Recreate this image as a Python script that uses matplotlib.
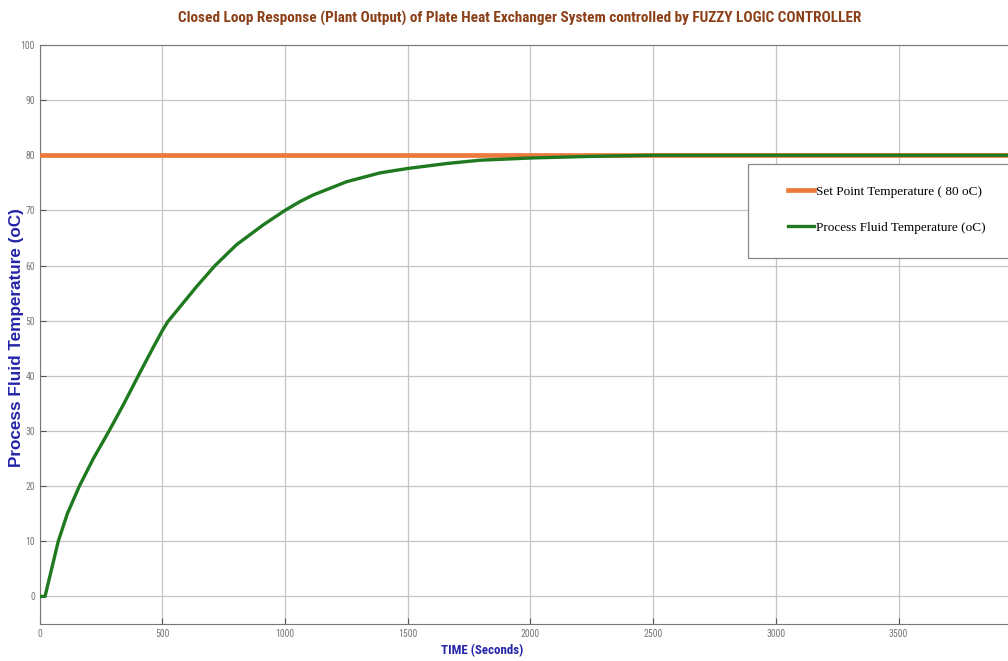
import numpy as np
import matplotlib
matplotlib.use("Agg")
import matplotlib.pyplot as plt
from matplotlib.patches import Rectangle

# readings
time_s = [0, 22, 76, 113, 162, 219, 283, 344, 402, 461, 500, 522, 640, 715,
          803, 912, 1000, 1061, 1115, 1251, 1387, 1500, 1659, 1795, 2000,
          2250, 2500, 3000, 3500, 3946]
process_temp = [0, 0, 10, 15, 20, 25, 30, 35, 40, 45, 48.2, 49.8, 56.2, 60,
                63.8, 67.4, 70, 71.6, 72.8, 75.2, 76.8, 77.6, 78.5, 79.1, 79.5,
                79.8, 80, 80, 80, 80]
setpoint_t = [0, 3946]
setpoint_temp = [80, 80]

xticks = [0, 500, 1000, 1500, 2000, 2500, 3000, 3500]
yticks = [0, 10, 20, 30, 40, 50, 60, 70, 80, 90, 100]

NARROW = ["Roboto Condensed", "Liberation Sans", "DejaVu Sans"]

fig = plt.figure(figsize=(10.08, 6.61), dpi=100)
ax = fig.add_axes([0.0393, 0.056, 0.9607, 0.876])

ax.plot(setpoint_t, setpoint_temp, color="#ec7a3c", lw=3.4,
        label="Set Point Temperature ( 80 oC)", zorder=3)
ax.plot(time_s, process_temp, color="#1f7a1f", lw=2.4,
        label="Process Fluid Temperature (oC)", zorder=4)

ax.set_xlim(0, 3946)
ax.set_ylim(-5, 100)
ax.set_xticks(xticks)
ax.set_yticks(yticks)
ax.grid(True, color="#c4c4c4", lw=0.9)
ax.tick_params(direction="in", length=4, colors="#555555", labelsize=7,
               labelcolor="#777777")
for lab in ax.get_xticklabels() + ax.get_yticklabels():
    lab.set_family(NARROW)
for s in ["left", "bottom", "top"]:
    ax.spines[s].set_color("#777777")
ax.spines["right"].set_visible(False)

fig.text(0.516, 0.972, "Closed Loop Response (Plant Output) of Plate Heat Exchanger System controlled by FUZZY LOGIC CONTROLLER",
         ha="center", va="center", fontsize=11, fontweight="bold",
         color="#8c3f17", family=NARROW)
fig.text(0.478, 0.016, "TIME (Seconds)", ha="center", va="center",
         fontsize=9.3, fontweight="bold", color="#2424a8", family=NARROW)
fig.text(0.016, 0.49, "Process Fluid Temperature (oC)", ha="center", va="center",
         rotation=90, fontsize=12.3, fontweight="bold", color="#2424a8",
         family="Liberation Sans")

# legend box drawn separately so its padding can match the reference
ax.add_patch(Rectangle((0.7315, 0.632), 0.3, 0.162, transform=ax.transAxes,
                       facecolor="white", edgecolor="#888888", lw=0.9,
                       zorder=5, clip_on=False))
leg = ax.legend(loc="upper left", bbox_to_anchor=(0.766, 0.768), frameon=False,
                borderpad=0, labelspacing=1.8, handlelength=2.0, handletextpad=0.1,
                prop={"family": "Liberation Serif", "size": 9.5})
leg.set_zorder(6)

fig.savefig("out.png", dpi=100)
